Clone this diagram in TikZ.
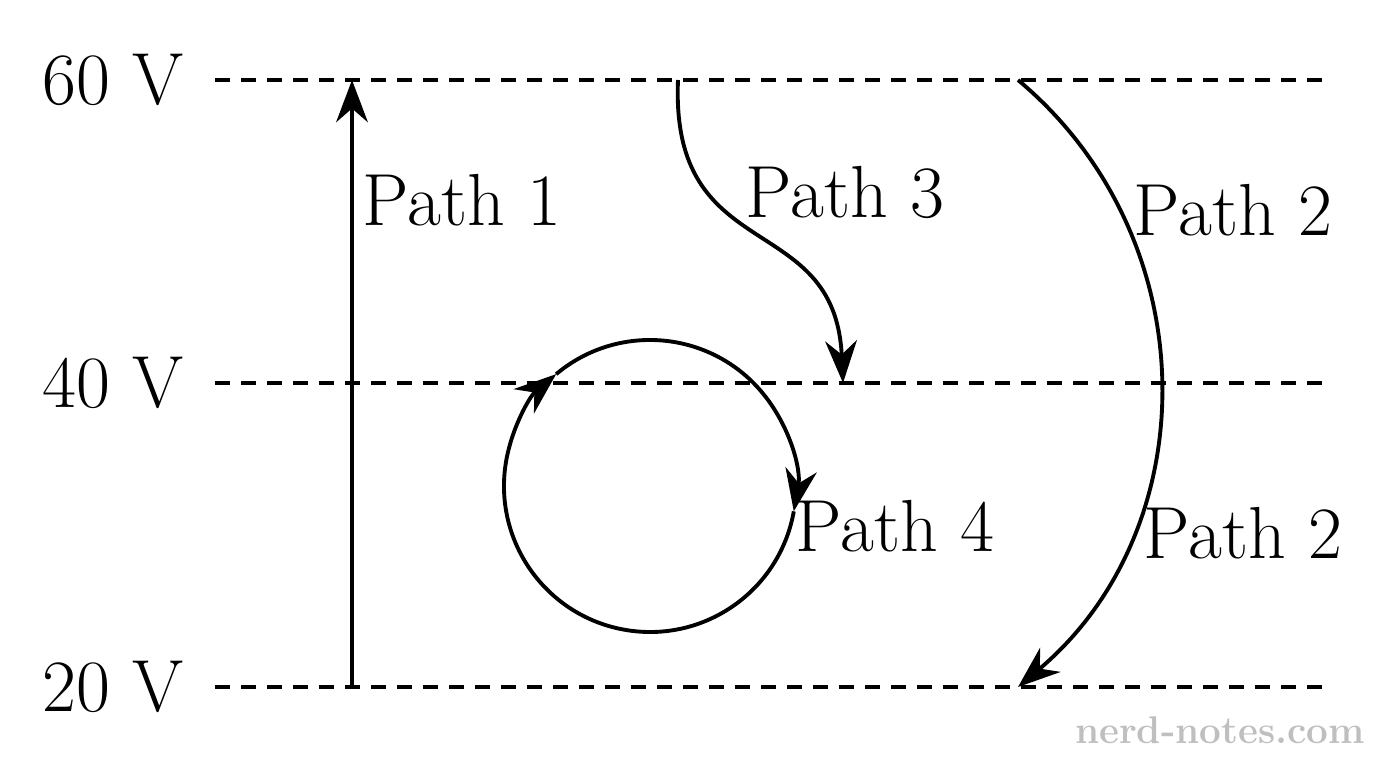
\documentclass[tikz,border=0pt]{standalone}
\usepackage{tikz}
\usetikzlibrary{arrows.meta}
\usetikzlibrary{calc}
\tikzset{
  level/.style={line width=1.1pt, dash pattern=on 4.2pt off 3.2pt},
  path/.style={line width=1.1pt, -{Stealth[length=12pt,width=9pt]}},
  lbl/.style={font=\fontsize{21}{25}\selectfont}
}
\begin{document}
\begin{tikzpicture}
        \useasboundingbox (0,0) rectangle (13.76,7.68);
        % levels
        \coordinate (L60a) at (2.15,6.88); \coordinate (L60b) at (13.25,6.88);
        \coordinate (L40a) at (2.15,3.85); \coordinate (L40b) at (13.25,3.85);
        \coordinate (L20a) at (2.15,0.81); \coordinate (L20b) at (13.25,0.81);
        \draw[level] (L60a) -- (L60b);
        \draw[level] (L40a) -- (L40b);
        \draw[level] (L20a) -- (L20b);
        \node[lbl] (v60) at (1.13,6.88) {60 V};
        \node[lbl] (v40) at (1.13,3.85) {40 V};
        \node[lbl] (v20) at (1.13,0.81) {20 V};
        % path 1
        \coordinate (p1s) at (3.52,0.81);
        \coordinate (p1e) at (3.52,6.88);
        \draw[path] (p1s) -- (p1e);
        \node[lbl] (t1) at (4.62,5.68) {Path 1};
        % path 3
        \coordinate (p3s) at (6.78,6.88);
        \coordinate (p3e) at (8.43,3.85);
        \draw[path] (p3s) .. controls (6.70,5.0) and (8.35,5.6) .. (p3e);
        \node[lbl] (t3) at (8.45,5.76) {Path 3};
        % path 2
        \coordinate (p2s) at (10.18,6.88);
        \coordinate (p2e) at (10.18,0.81);
        \draw[path] (p2s) .. controls (12.07,5.3) and (12.07,2.4) .. (p2e);
        \node[lbl] (t2a) at (12.33,5.58) {Path 2};
        \node[lbl] (t2b) at (12.43,2.35) {Path 2};
        % path 4
        \coordinate (c4) at (6.50,2.82);
        \draw[path] ($(c4)+(130:1.46)$) arc (130:-10:1.46);
        \draw[path] ($(c4)+(-10:1.46)$) arc (-10:-230:1.46);
        \node[lbl] (t4) at (8.95,2.42) {Path 4};
        % mark
        \node[font=\fontsize{11}{13}\selectfont\bfseries, text=black!25] (wm) at (12.2,0.38) {nerd-notes.com};
    \end{tikzpicture}
\end{document}
